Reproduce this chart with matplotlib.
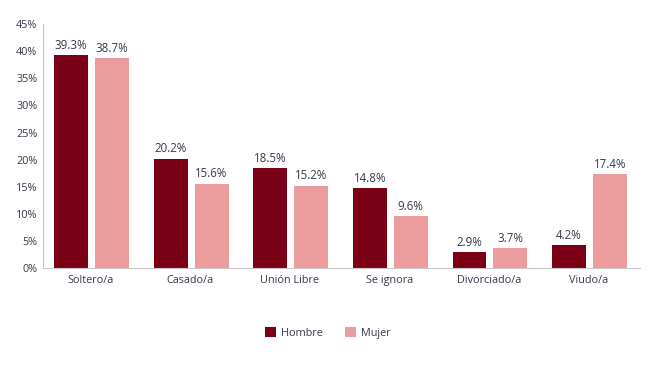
import matplotlib.pyplot as plt
import numpy as np

categorias = ["Soltero/a", "Casado/a", "Unión Libre", "Se ignora", "Divorciado/a", "Viudo/a"]
hombre = [39.3, 20.2, 18.5, 14.8, 2.9, 4.2]
mujer = [38.7, 15.6, 15.2, 9.6, 3.7, 17.4]

plt.rcParams['font.family'] = ['Open Sans', 'DejaVu Sans']
txt = "#363a4c"

fig = plt.figure(figsize=(6.69, 3.83), dpi=100)
ax = fig.add_axes([0.064, 0.300, 0.893, 0.637])

x = np.arange(len(categorias))
w = 0.34
b1 = ax.bar(x - 0.215, hombre, w, color="#7a0015", label="Hombre")
b2 = ax.bar(x + 0.195, mujer, w, color="#ec9c9c", label="Mujer")

for bars, vals in [(b1, hombre), (b2, mujer)]:
    for r, v in zip(bars, vals):
        ax.text(r.get_x() + r.get_width() / 2, v + 0.6, f"{v:.1f}%", ha="center", va="bottom",
                fontsize=8.3, color=txt)

ax.set_xlim(-0.5, 5.5)
ax.set_ylim(0, 45)
ax.set_yticks(range(0, 46, 5))
ax.set_yticklabels([f"{t}%" for t in range(0, 46, 5)])
ax.set_xticks(x - 0.02)
ax.set_xticklabels(categorias)
ax.tick_params(length=0, labelsize=7.8, colors=txt)
ax.tick_params(axis="x", pad=5)
ax.tick_params(axis="y", pad=4)
for s in ["top", "right"]:
    ax.spines[s].set_visible(False)
ax.spines["left"].set_color("#c8c8c8")
ax.spines["bottom"].set_color("#c8c8c8")

fig.legend(loc="center", bbox_to_anchor=(0.49, 0.13), ncol=2, frameon=False, fontsize=7.8,
           handlelength=1.0, handleheight=1.0, handletextpad=0.5, columnspacing=2.0,
           labelcolor=txt)

fig.savefig("out.png")
